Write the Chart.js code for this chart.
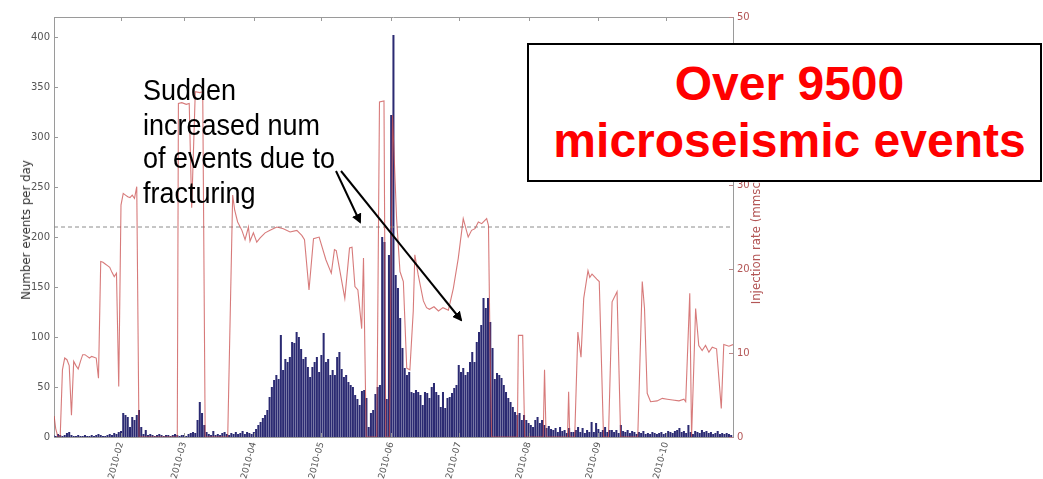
<!DOCTYPE html>
<html>
<head>
<meta charset="utf-8">
<script src="https://cdn.jsdelivr.net/npm/chart.js@4.4.1/dist/chart.umd.min.js"></script>
<style>
  html, body { margin: 0; padding: 0; background: #fff; }
  #wrap { position: relative; width: 1043px; height: 479px; overflow: hidden; background: #fff; }
  #c { position: absolute; left: 0; top: 0; }
  .ytl { position: absolute; left: 26px; top: 230px; transform: translate(-50%, -50%) rotate(-90deg);
         white-space: nowrap; font: 11.8px "DejaVu Sans", sans-serif; color: #333; }
  .ytr { position: absolute; left: 756px; top: 226px; transform: translate(-50%, -50%) rotate(-90deg);
         white-space: nowrap; font: 11.8px "DejaVu Sans", sans-serif; color: #b35656; }
  .note { position: absolute; left: 143px; top: 73px; font: 27px "Liberation Sans", Arial, sans-serif;
          line-height: 30.5px; color: #000; white-space: nowrap; transform: scaleY(1.12); transform-origin: 0 0; }
  .box { position: absolute; left: 527px; top: 43px; width: 501px; height: 125px; border: 2px solid #000;
         background: #fff; color: #f00; font: bold 48px "Liberation Sans", Arial, sans-serif;
         line-height: 57px; text-align: center; padding-top: 10px; padding-left: 10px; box-sizing: content-box; }
  svg { position: absolute; left: 0; top: 0; }
</style>
</head>
<body>
<div id="wrap">
  <canvas id="c" width="1043" height="479"></canvas>
  <div class="ytl">Number events per day</div>
  <div class="ytr">Injection rate (mmscf/day)</div>
  <svg width="1043" height="479">
    <defs>
      <marker id="ah" markerWidth="10" markerHeight="10" refX="8" refY="5" orient="auto" markerUnits="userSpaceOnUse">
        <path d="M0,0 L10,5 L0,10 z" fill="#000"/>
      </marker>
    </defs>
    <line x1="336" y1="171" x2="360" y2="222" stroke="#000" stroke-width="2" marker-end="url(#ah)"/>
    <line x1="341" y1="171" x2="461" y2="320" stroke="#000" stroke-width="2" marker-end="url(#ah)"/>
  </svg>
  <div class="note">Sudden<br>increased num<br>of events due to<br>fracturing</div>
  <div class="box">Over 9500<br>microseismic events</div>
</div>
<script>
// ---- data (day index: 0 = 2010-01-01) ----
const firstDay = 1;
const eventsPerDay = [
  // d1-30
  2,1,3,2,1,2,4,5,2,1,1,2,1,1,2,1,1,2,1,2,3,2,1,1,2,3,2,4,3,5,
  // d31-40
  6,24,22,20,10,20,17,22,27,10,
  // d41-63
  3,7,2,3,2,1,2,3,2,1,2,2,1,2,3,2,1,2,2,1,3,4,5,
  // d64-69
  4,17,35,24,12,5,
  // d70-88
  3,2,6,2,3,2,4,5,3,2,4,3,5,3,4,6,3,5,4,
  // d89-152
  3,5,8,12,15,19,22,27,40,50,
  57,62,58,102,67,78,75,80,95,94,
  105,100,88,78,80,70,60,70,75,80,
  65,82,104,75,78,62,67,62,80,85,
  68,60,62,55,52,50,42,38,32,46,
  47,39,10,24,27,43,50,52,200,195,
  38,182,322,402,
  // d153-199
  162,149,119,89,69,62,65,45,44,47,
  45,42,32,45,44,39,50,54,45,42,
  30,45,29,39,40,44,49,52,72,65,
  69,62,65,75,85,75,95,105,112,139,
  129,139,115,89,58,64,62,
  // d200-251
  59,52,45,39,35,30,25,22,24,17,
  22,17,14,12,10,17,20,14,17,12,
  9,11,8,7,9,5,10,6,7,4,
  9,5,5,7,10,5,9,4,7,5,
  15,5,14,8,5,7,10,5,7,7,
  5,7,
  // d252-302
  4,12,6,5,7,4,6,5,3,5,
  4,6,3,4,3,5,4,3,4,5,
  3,4,6,5,4,6,7,9,5,6,
  4,12,5,3,6,5,4,7,5,6,
  4,5,3,4,6,3,4,3,4,3,
  2
];

const rateDays = [
  1.3,2,3,4,5,6,7,8,9,10,11,12,13,14,15,16,17,18,19,20,
  21,22,23,24,25,26,27,28,29,30,31,32,33,34,35,36,37,38,39,
  56,56.5,58,60,61.3,62.4,64,66,67.3,68.4,
  78.4,80.6,81.5,82.8,84.7,86.1,87.6,88.3,89.8,91.3,
  92.8,95,97.2,100.2,103.1,106.1,109.1,111.3,112.5,114.5,
  116.5,119,122,124.4,125.8,126.6,128,130.4,132.5,133.6,
  134.9,136.2,137.9,138.7,139.9,
  144.6,145.8,147.8,148.6,150.2,151.6,153.4,154.9,156.4,157.9,
  159.3,160.8,161.5,163,165.3,166.7,168,170,172,174,
  176.4,178.6,180.8,183,185.2,186.7,188.2,189.7,191.2,193.4,
  194.2,194.9,195.6,
  207,207.5,209.4,210.3,
  218.5,219.1,219.8,
  229.3,229.8,230.3,
  232.5,233.9,235.3,236.5,238.4,239.2,240.2,242.3,243.4,245.3,
  247.5,249.1,251.3,252.9,
  260.5,262.5,263.5,264.7,266.2,269.1,271.4,273.6,276,278.8,
  281,281.8,283.6,284.4,286.2,287.6,289.1,290.6,292.1,293.6,
  295.5,297.6,298.7,301,302.8
];
const rateValues = [
  2.5,1,0,0,8,9.4,9.2,8.5,2.6,9.0,8.5,8.1,9.0,9.8,9.8,9.6,9.4,9.6,9.5,9.4,
  7.0,20.9,20.8,20.6,20.4,20.2,19.6,19.1,19.5,6.0,27.6,29.0,28.8,28.6,28.5,28.8,28.4,29.8,0,
  0,39.7,39.8,39.6,39.7,27.3,41.1,41.0,41.1,0,
  0,28.8,27.0,25.6,24.6,23.5,25.0,23.3,24.3,23.2,
  23.7,24.3,24.6,25.0,24.8,24.4,24.6,24.0,23.5,17.5,
  23.6,23.8,21.1,19.5,22.3,22.2,20.1,16.5,22.5,22.6,
  17.9,17.5,12.9,21.3,0,
  0,39.9,40.0,0,0,38.3,26,19.7,18.5,8.2,
  8.0,15,21.7,19.3,16.2,15.4,15.2,15.5,15.0,15.4,
  15.1,17.7,21.3,26.0,23.8,24.6,24.8,25.6,25.4,26.0,
  25.2,10.7,0,
  0,12.1,12.1,0,
  0,8.0,0,
  0,5.4,0,
  0,12.5,9.5,16.5,19.8,19.0,19.4,18.8,18.5,0,
  0,16.1,17.3,0,
  0,18.5,15.3,5.2,4.2,4.3,4.6,4.5,4.4,4.3,
  4.5,4.2,17.1,0,15.3,10.9,10.3,10.9,10.1,10.7,
  10.5,3.4,11.0,10.8,11.0
];

const thresholdEvents = 210;
const monthDays = [31, 59, 90, 120, 151, 181, 212, 243, 273];
const monthLabels = ['2010-02','2010-03','2010-04','2010-05','2010-06','2010-07','2010-08','2010-09','2010-10'];
const leftTicks = [0, 50, 100, 150, 200, 250, 300, 350, 400];
const rightTicks = [0, 10, 20, 30, 40, 50];
const xMin = 1.25, xMax = 302.8;
const leftMax = 420, rightMax = 50;

// ---- build datasets ----
const barData = eventsPerDay.map((v, i) => ({ x: firstDay + i, y: v }));
const rateData = rateDays.map((d, i) => ({ x: d, y: rateValues[i] }));
const threshData = [{ x: xMin, y: thresholdEvents }, { x: xMax, y: thresholdEvents }];

const framePlugin = {
  id: 'frame',
  afterDatasetsDraw(chart) {
    const { ctx, chartArea: a, scales } = chart;
    ctx.save();
    ctx.strokeStyle = '#9a9a9a';
    ctx.lineWidth = 1;
    const seg = (x1, y1, x2, y2) => { ctx.beginPath(); ctx.moveTo(x1, y1); ctx.lineTo(x2, y2); ctx.stroke(); };
    seg(a.left, a.top + 0.5, a.right, a.top + 0.5);
    scales.y.ticks.forEach(t => { const y = Math.round(scales.y.getPixelForValue(t.value)) + 0.5; seg(a.left, y, a.left + 4, y); });
    ctx.strokeStyle = '#b88';
    scales.y2.ticks.forEach(t => { const y = Math.round(scales.y2.getPixelForValue(t.value)) + 0.5; seg(a.right - 4, y, a.right, y); });
    ctx.strokeStyle = '#9a9a9a';
    scales.x.ticks.forEach(t => { const x = Math.round(scales.x.getPixelForValue(t.value)) + 0.5; seg(x, a.bottom, x, a.bottom - 4); seg(x, a.top, x, a.top + 4); });
    ctx.restore();
  }
};

new Chart(document.getElementById('c'), {
  type: 'bar',
  data: {
    datasets: [
      {
        type: 'bar', data: barData, yAxisID: 'y', xAxisID: 'x', order: 3,
        backgroundColor: '#2b2a72', borderWidth: 0,
        barPercentage: 0.9, categoryPercentage: 1.0
      },
      {
        type: 'line', data: threshData, yAxisID: 'y', xAxisID: 'x', order: 2,
        borderColor: '#8c8c8c', borderWidth: 1, borderDash: [4, 3], pointRadius: 0, fill: false
      },
      {
        type: 'line', data: rateData, yAxisID: 'y2', xAxisID: 'x', order: 1,
        borderColor: 'rgba(200,70,70,0.72)', borderWidth: 1.1, pointRadius: 0, fill: false, tension: 0
      }
    ]
  },
  options: {
    responsive: false,
    animation: false,
    devicePixelRatio: 1,
    layout: { padding: { top: 17, left: 0, right: 0, bottom: 0 } },
    plugins: { legend: { display: false }, tooltip: { enabled: false } },
    scales: {
      x: {
        type: 'linear', min: xMin, max: xMax, position: 'bottom', offset: false,
        grid: { display: false, drawTicks: false, tickLength: 0 },
        border: { display: true, color: '#9a9a9a' },
        afterBuildTicks: s => { s.ticks = monthDays.map(v => ({ value: v })); },
        afterFit: s => { s.height = 42; },
        ticks: {
          autoSkip: false, minRotation: 75, maxRotation: 75, padding: 4,
          color: '#555', font: { family: 'DejaVu Sans', size: 9 },
          callback: (v, i) => monthLabels[i]
        }
      },
      y: {
        type: 'linear', position: 'left', min: 0, max: leftMax,
        grid: { display: false, drawTicks: false, tickLength: 0 },
        border: { display: true, color: '#9a9a9a' },
        afterBuildTicks: s => { s.ticks = leftTicks.map(v => ({ value: v })); },
        afterFit: s => { s.width = 54; },
        ticks: { color: '#555', padding: 4, font: { family: 'DejaVu Sans', size: 10 } }
      },
      y2: {
        type: 'linear', position: 'right', min: 0, max: rightMax,
        grid: { display: false, drawTicks: false, tickLength: 0 },
        border: { display: true, color: '#9a9a9a' },
        afterBuildTicks: s => { s.ticks = rightTicks.map(v => ({ value: v })); },
        afterFit: s => { s.width = 310; },
        ticks: { color: '#b35656', padding: 4, font: { family: 'DejaVu Sans', size: 10 } }
      }
    }
  },
  plugins: [framePlugin]
});
</script>
</body>
</html>
